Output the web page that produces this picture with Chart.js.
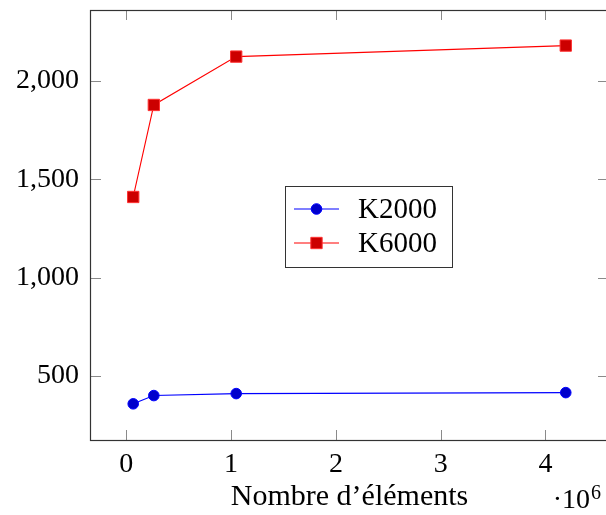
<!DOCTYPE html>
<html>
<head>
<meta charset="utf-8">
<script src="https://cdn.jsdelivr.net/npm/chart.js@4.4.1/dist/chart.umd.min.js"></script>
<style>
  html, body { margin: 0; padding: 0; overflow: hidden; background: #fff; }
  #wrap { width: 618px; height: 515px; }
  #c { display: block; width: 618px; height: 515px; max-width: none; }
</style>
</head>
<body>
<div id="wrap"><canvas id="c" width="618" height="515"></canvas></div>
<script>
// number of elements (plotted in units of 1e6)
const sizes = [65536, 262144, 1048576, 4194304];
const k2000 = [358, 400, 410, 415];
const k6000 = [1410, 1878, 2124, 2180];
const xTicks = [0, 1, 2, 3, 4];
const yTicks = [500, 1000, 1500, 2000];
const FONT = "'Liberation Serif', 'DejaVu Serif', serif";

const pts = (ys) => ys.map((y, i) => ({ x: sizes[i] / 1e6, y }));

// pgfplots-like frame with ticks pointing inward on all four sides
const frame = {
  id: "frame",
  beforeDatasetsDraw(chart) {
    const { ctx, chartArea: a, scales } = chart;
    const line = (x1, y1, x2, y2) => {
      ctx.beginPath();
      ctx.moveTo(x1, y1);
      ctx.lineTo(x2, y2);
      ctx.stroke();
    };
    ctx.save();
    ctx.strokeStyle = "#8a8a8a";
    ctx.lineWidth = 1;
    scales.x.ticks.forEach((t) => {
      const p = Math.round(scales.x.getPixelForValue(t.value)) + 0.5;
      line(p, a.bottom, p, a.bottom - 10);
      line(p, a.top, p, a.top + 10);
    });
    scales.y.ticks.forEach((t) => {
      const p = Math.round(scales.y.getPixelForValue(t.value)) + 0.5;
      line(a.left, p, a.left + 11, p);
      line(a.right, p, a.right - 11, p);
    });
    ctx.strokeStyle = "#333";
    ctx.lineWidth = 1.2;
    ctx.strokeRect(a.left + 0.5, a.top + 0.5, a.right - a.left, a.bottom - a.top);
    ctx.restore();
  },
  afterDraw(chart) {
    const { ctx } = chart;
    ctx.save();
    // exponent label of the x axis
    ctx.fillStyle = "#000";
    ctx.textBaseline = "alphabetic";
    ctx.textAlign = "right";
    ctx.font = "28px " + FONT;
    ctx.fillText("·10", 590, 508);
    ctx.textAlign = "left";
    ctx.font = "20px " + FONT;
    ctx.fillText("6", 591, 499);

    // legend box
    const bx = 285, by = 186, bw = 167, bh = 81;
    ctx.fillStyle = "#fff";
    ctx.fillRect(bx, by, bw, bh);
    ctx.strokeStyle = "#333";
    ctx.lineWidth = 1;
    ctx.strokeRect(bx + 0.5, by + 0.5, bw, bh);
    chart.data.datasets.forEach((ds, i) => {
      const cy = 209 + i * 34;
      ctx.strokeStyle = ds.borderColor;
      ctx.lineWidth = ds.borderWidth;
      ctx.beginPath();
      ctx.moveTo(294, cy);
      ctx.lineTo(339, cy);
      ctx.stroke();
      ctx.fillStyle = ds.pointBackgroundColor;
      ctx.strokeStyle = ds.pointBorderColor;
      ctx.lineWidth = 1;
      Chart.helpers.drawPoint(ctx, {
        pointStyle: ds.pointStyle,
        radius: ds.pointRadius,
        rotation: 0,
        borderWidth: 1,
      }, 316.5, cy);
      ctx.fillStyle = "#000";
      ctx.font = "29px " + FONT;
      ctx.textBaseline = "middle";
      ctx.fillText(ds.label, 358, cy + 1);
    });
    ctx.restore();
  },
};

new Chart(document.getElementById("c"), {
  type: "line",
  data: {
    datasets: [
      {
        label: "K2000",
        data: pts(k2000),
        borderColor: "#0000ff",
        borderWidth: 1.1,
        pointStyle: "circle",
        pointRadius: 5.3,
        pointBackgroundColor: "#0000cc",
        pointBorderColor: "#0000ff",
        pointBorderWidth: 1,
      },
      {
        label: "K6000",
        data: pts(k6000),
        borderColor: "#ff0000",
        borderWidth: 1.1,
        pointStyle: "rect",
        pointRadius: 8,
        pointBackgroundColor: "#cc0000",
        pointBorderColor: "#ff3030",
        pointBorderWidth: 1,
      },
    ],
  },
  options: {
    responsive: false,
    animation: false,
    layout: { padding: { top: 10, right: 0, left: 0, bottom: 0 } },
    plugins: { legend: { display: false }, tooltip: { enabled: false } },
    scales: {
      x: {
        type: "linear",
        min: -0.347,
        max: 4.607,
        afterBuildTicks: (s) => { s.ticks = xTicks.map((v) => ({ value: v })); },
        afterFit: (s) => { s.height = 75; s.paddingLeft = 0; s.paddingRight = 0; },
        grid: { display: false, drawTicks: false },
        border: { display: false },
        ticks: {
          color: "#000",
          padding: 8,
          font: { family: FONT, size: 28 },
          callback: (v) => String(v),
        },
        title: {
          display: true,
          text: "Nombre d’éléments",
          color: "#000",
          font: { family: FONT, size: 30 },
          padding: { top: 0, bottom: 0 },
        },
      },
      y: {
        min: 174,
        max: 2361,
        afterBuildTicks: (s) => { s.ticks = yTicks.map((v) => ({ value: v })); },
        afterFit: (s) => { s.width = 90; s.paddingTop = 0; s.paddingBottom = 0; },
        grid: { display: false, drawTicks: false },
        border: { display: false },
        ticks: {
          color: "#000",
          padding: 11,
          font: { family: FONT, size: 28 },
          callback: (v) => v.toLocaleString("en-US"),
        },
      },
    },
  },
  plugins: [frame],
});
</script>
</body>
</html>
